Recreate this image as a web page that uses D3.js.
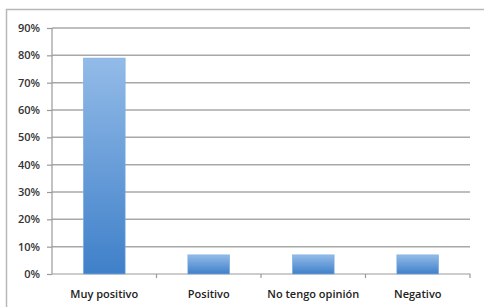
<html>
<head>
    <script src="https://d3js.org/d3.v7.min.js"></script>
    <style>
        body { margin: 0; background: white; font-family: "Open Sans", Arial, sans-serif; }
        svg { display: block; }
    </style>
</head>
<body>
    <svg id="chart" width="484" height="307"></svg>
    <script>
        const categories = ["Muy positivo", "Positivo", "No tengo opinión", "Negativo"];
        const values = [0.79, 0.07, 0.07, 0.07];
        const yTicks = [0, 0.1, 0.2, 0.3, 0.4, 0.5, 0.6, 0.7, 0.8, 0.9];

        const svg = d3.select("#chart");

        // outer frame
        svg.append("rect")
            .attr("x", 6.5).attr("y", 9.5)
            .attr("width", 490).attr("height", 310)
            .attr("fill", "white")
            .attr("stroke", "#b8b8b8")
            .attr("stroke-width", 1.5);

        const plotLeft = 52, plotRight = 470, plotTop = 28, plotBottom = 274;

        const x = d3.scaleBand()
            .domain(categories)
            .range([plotLeft, plotRight])
            .paddingInner(0.6)
            .paddingOuter(0.3);

        const band = d3.scaleBand().domain(categories).range([plotLeft, plotRight]);

        const y = d3.scaleLinear()
            .domain([0, 0.9])
            .range([plotBottom, plotTop]);

        const defs = svg.append("defs");
        const grad = defs.append("linearGradient")
            .attr("id", "barGrad")
            .attr("x1", 0).attr("y1", 0).attr("x2", 0).attr("y2", 1);
        grad.append("stop").attr("offset", "0%").attr("stop-color", "#93bbe8");
        grad.append("stop").attr("offset", "100%").attr("stop-color", "#3f80c9");

        // gridlines
        svg.append("g")
            .selectAll("line")
            .data(yTicks.slice(1))
            .enter()
            .append("line")
            .attr("x1", plotLeft).attr("x2", plotRight)
            .attr("y1", d => y(d)).attr("y2", d => y(d))
            .attr("stroke", "#a8a8a8")
            .attr("stroke-width", 1.5);

        // y axis
        const yAxis = svg.append("g")
            .attr("transform", "translate(" + plotLeft + ",0)")
            .call(d3.axisLeft(y).tickValues(yTicks).tickFormat(d3.format(".0%")).tickSize(5).tickPadding(7));
        yAxis.selectAll("line, path").attr("stroke", "#999").attr("stroke-width", 1.2);
        yAxis.select(".domain").attr("d", "M0," + plotBottom + "V" + plotTop);
        yAxis.selectAll("text")
            .attr("fill", "#333")
            .style("font-size", "11px")
            .style("font-weight", "600")
            .style("font-family", "'Open Sans', Arial, sans-serif");

        // x axis
        const xAxis = svg.append("g")
            .attr("transform", "translate(0," + plotBottom + ")")
            .call(d3.axisBottom(band).tickSize(0).tickPadding(16));
        xAxis.select(".domain").attr("stroke", "#999").attr("stroke-width", 1.2)
            .attr("d", "M" + plotLeft + ",0H" + plotRight + "V4");
        xAxis.selectAll("text")
            .attr("fill", "#222")
            .style("font-size", "11px")
            .style("font-weight", "600")
            .style("font-family", "'Open Sans', Arial, sans-serif");

        // category separator ticks
        svg.append("g")
            .selectAll("line")
            .data(categories.slice(1))
            .enter()
            .append("line")
            .attr("x1", d => band(d)).attr("x2", d => band(d))
            .attr("y1", plotBottom).attr("y2", plotBottom + 4)
            .attr("stroke", "#999").attr("stroke-width", 1.2);

        // bars
        svg.append("g")
            .selectAll("rect")
            .data(values)
            .enter()
            .append("rect")
            .attr("x", (d, i) => x(categories[i]))
            .attr("y", d => y(d))
            .attr("width", x.bandwidth())
            .attr("height", d => plotBottom - y(d))
            .attr("fill", "url(#barGrad)")
            .attr("stroke", "#7faee0")
            .attr("stroke-width", 0.6);
    </script>
</body>
</html>
